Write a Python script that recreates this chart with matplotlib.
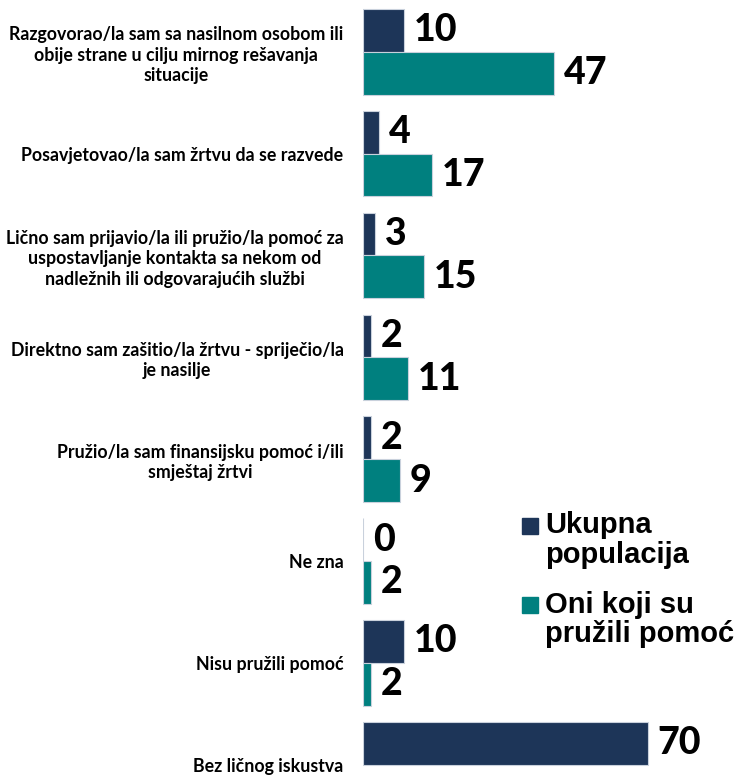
import matplotlib
matplotlib.use("Agg")
import matplotlib.pyplot as plt
import numpy as np
from matplotlib.lines import Line2D

categories = [
    "Razgovorao/la sam sa nasilnom osobom ili\nobije strane u cilju mirnog rešavanja\nsituacije",
    "Posavjetovao/la sam žrtvu da se razvede",
    "Lično sam prijavio/la ili pružio/la pomoć za\nuspostavljanje kontakta sa nekom od\nnadležnih ili odgovarajućih službi",
    "Direktno sam zašitio/la žrtvu - spriječio/la\nje nasilje",
    "Pružio/la sam finansijsku pomoć i/ili\nsmještaj žrtvi",
    "Ne zna",
    "Nisu pružili pomoć",
    "Bez ličnog iskustva",
]
ukupna = [10, 4, 3, 2, 2, 0, 10, 70]
pomogli = [47, 17, 15, 11, 9, 2, 2, None]
series_names = ["Ukupna\npopulacija", "Oni koji su\npružili pomoć"]

navy = "#1d3558"
teal = "#00807f"

fig = plt.figure(figsize=(7.53, 7.78), dpi=100)
ax = fig.add_axes([363 / 753, 0, 1 - 363 / 753, 1 - 8 / 778])

y = np.arange(len(categories))
h = 0.42
bars1 = ax.barh(y - h / 2, ukupna, height=h, color=navy, edgecolor="#c9d1dc", linewidth=0.8)
vals2 = [v if v is not None else np.nan for v in pomogli]
bars2 = ax.barh(y + h / 2, vals2, height=h, color=teal, edgecolor="#c9d1dc", linewidth=0.8)

for bars, vals in ((bars1, ukupna), (bars2, pomogli)):
    for bar, v in zip(bars, vals):
        if v is None:
            continue
        ax.annotate(f"{v}", xy=(v, bar.get_y() + bar.get_height() / 2),
                    xytext=(7, 0), textcoords="offset points",
                    ha="left", va="center", fontsize=27, fontweight=900,
                    family="Lato", color="black")

ax.set_xlim(0, (753 - 363) / 4.07)
ax.set_ylim((778 - 50) / 102.1, -h - 0.01)
ax.set_yticks(y)
ax.set_yticklabels(categories, family="Lato", fontweight="bold", fontsize=12.8,
                   ha="right", multialignment="center", linespacing=1.25)
ax.tick_params(axis="y", length=0, pad=14)
ax.set_xticks([])
for s in ax.spines.values():
    s.set_visible(False)

handles = [Line2D([], [], marker="s", linestyle="none", markersize=11, color=c)
           for c in (navy, teal)]
leg = fig.legend(handles, series_names, loc="upper left", bbox_to_anchor=(494 / 753, 1 - 485 / 778),
                 frameon=False, handletextpad=0.15, handlelength=0.7, labelspacing=0.75,
                 prop={"family": "Liberation Sans", "weight": "bold", "size": 21})
for t in leg.get_texts():
    t.set_linespacing(1.07)
# put the square next to the first line of each label
for hd in leg.legend_handles:
    hd.set_ydata([v + 11 for v in hd.get_ydata()])

fig.savefig("out.png", dpi=100)
